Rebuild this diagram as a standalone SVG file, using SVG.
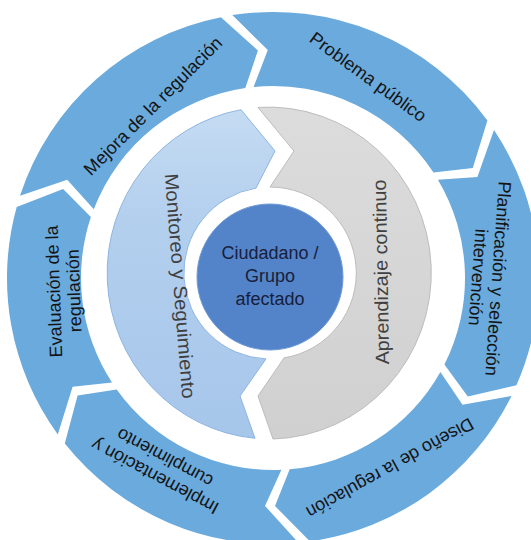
<svg xmlns="http://www.w3.org/2000/svg" width="531" height="540" viewBox="0 0 531 540">
<defs>
<linearGradient id="gLb" x1="0" y1="0" x2="0" y2="1">
<stop offset="0" stop-color="#c4dbf2"/>
<stop offset="0.35" stop-color="#b3cfee"/>
<stop offset="1" stop-color="#a6c6ea"/>
</linearGradient>
<linearGradient id="gGr" x1="0" y1="0" x2="0" y2="1">
<stop offset="0" stop-color="#dcdcdc"/>
<stop offset="1" stop-color="#d0d0d0"/>
</linearGradient>
<style>
.seg{fill:#6aaadd;}
.t{font-family:"Liberation Sans",Arial,sans-serif;font-size:18px;fill:#141414;text-anchor:middle;dominant-baseline:central;}
.m{font-family:"Liberation Sans",Arial,sans-serif;font-size:19px;fill:#404040;text-anchor:middle;dominant-baseline:central;}
.c{font-family:"Liberation Sans",Arial,sans-serif;font-size:18px;fill:#17203a;text-anchor:middle;}
</style>
</defs>
<rect width="531" height="540" fill="#ffffff"/>
<g id="connectors"></g>
<g id="problema">
<path class="seg" d="M232.3,15.1 A266,266 0 0 1 487.4,120.5 L472.8,168.1 L433.5,172.6 A192,192 0 0 0 253.6,87.0 L267.8,50.1 Z"/>
<text class="t" transform="translate(368,77) rotate(36)">Problema público</text>
</g>
<g id="planificacion">
<path class="seg" d="M494.0,130.0 A266,266 0 0 1 516.4,385.3 L467.8,396.4 L444.4,364.6 A192,192 0 0 0 437.9,179.7 L477.4,177.0 Z"/>
<text class="t" transform="translate(488,278) rotate(94)"><tspan x="0" y="-10">Planificación y selección</tspan><tspan x="0" y="10">intervención</tspan></text>
</g>
<g id="diseno">
<path class="seg" d="M511.5,395.9 A266,266 0 0 1 310.0,541.4 L275.0,506.0 L289.7,469.3 A192,192 0 0 0 440.4,372.0 L462.5,404.8 Z"/>
<text class="t" transform="translate(390,468) rotate(151)">Diseño de la regulación</text>
</g>
<g id="implementacion">
<path class="seg" d="M298.5,542.8 A266,266 0 0 1 64.8,443.6 L77.6,395.4 L116.7,389.5 A192,192 0 0 0 281.4,469.8 L265.0,505.9 Z"/>
<text class="t" transform="translate(160,467) rotate(208)"><tspan x="0" y="-10.5">Implementación y</tspan><tspan x="0" y="10.5">cumplimiento</tspan></text>
</g>
<g id="evaluacion">
<path class="seg" d="M57.8,434.4 A266,266 0 0 1 16.7,206.9 L63.1,188.9 L90.9,217.1 A192,192 0 0 0 112.0,382.6 L72.6,386.8 Z"/>
<text class="t" transform="translate(64,291) rotate(-92)"><tspan x="0" y="-10">Evaluación de la</tspan><tspan x="0" y="10">regulación</tspan></text>
</g>
<g id="mejora">
<path class="seg" d="M20.0,195.8 A266,266 0 0 1 220.9,17.2 L257.9,50.5 L245.3,88.0 A192,192 0 0 0 93.8,209.2 L67.2,179.8 Z"/>
<text class="t" transform="translate(153,106) rotate(-45)">Mejora de la regulación</text>
</g>
<g id="monitoreo">
<path d="M241,109.7 L275,151 L256,188.1 A86,86 0 0 0 266,358.9 L240,396 L255,438.3 A163,166 0 0 1 241,109.7 Z" fill="url(#gLb)" stroke="#8db5e2" stroke-width="1"/>
<text class="m" transform="translate(180,286) rotate(85.5)" textLength="226" lengthAdjust="spacingAndGlyphs">Monitoreo y Seguimiento</text>
</g>
<g id="aprendizaje">
<path d="M258,107.4 L294,151 L270,187 A86,86 0 0 1 284,357.9 L258,396 L273,439 A163,166 0 1 0 258,107.4 Z" fill="url(#gGr)" stroke="#bcbcbc" stroke-width="1"/>
<text class="m" transform="translate(381,272) rotate(-91)" textLength="185" lengthAdjust="spacingAndGlyphs">Aprendizaje continuo</text>
</g>
<g id="ciudadano">
<circle cx="270" cy="277" r="73" fill="#5384ca" stroke="#6f9ad6" stroke-width="1"/>
<text class="c" x="270" y="259">Ciudadano /</text>
<text class="c" x="270" y="282">Grupo</text>
<text class="c" x="270" y="305">afectado</text>
</g>
</svg>
